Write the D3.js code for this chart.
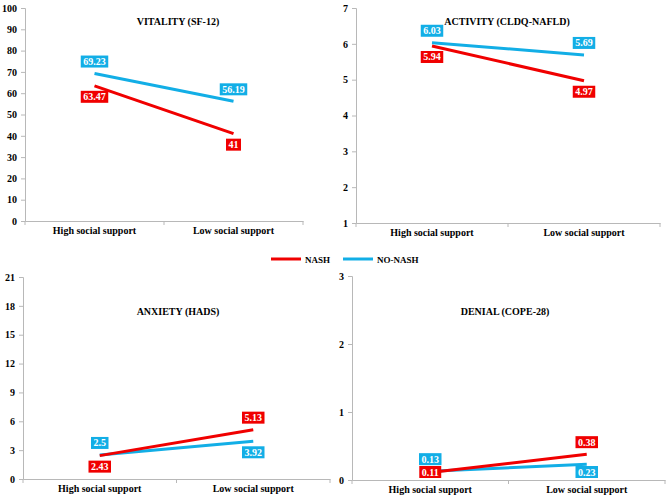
<!DOCTYPE html>
<html>
<head>
<meta charset="utf-8">
<script src="https://cdn.jsdelivr.net/npm/d3@7"></script>
<style>
  html, body { margin: 0; padding: 0; background: #fff; }
  svg { display: block; }
  svg text { font-family: "Liberation Serif", "DejaVu Serif", "Times New Roman", serif !important; font-weight: bold; }
</style>
</head>
<body>
<svg id="chart" width="669" height="498"></svg>
<script>
// ---- data ----
const categories = ["High social support", "Low social support"];
const seriesNames = ["NASH", "NO-NASH"];
const panelTitles = ["VITALITY (SF-12)", "ACTIVITY (CLDQ-NAFLD)", "ANXIETY (HADS)", "DENIAL (COPE-28)"];
const nashValues = [[63.47, 41], [5.94, 4.97], [2.43, 5.13], [0.11, 0.38]];
const noNashValues = [[69.23, 56.19], [6.03, 5.69], [2.5, 3.92], [0.13, 0.23]];
const yDomains = [[0, 100], [1, 7], [0, 21], [0, 3]];
const yTickSteps = [10, 1, 3, 1];

// ---- layout (not data) ----
const FONT = "'Liberation Serif', 'DejaVu Serif', 'Times New Roman', serif";
const colors = { "NASH": "#f00000", "NO-NASH": "#12aee6" };
const panels = [
  { x0: 25, x1: 303, yTop: 8, yBot: 221, titleX: 178, titleY: 25 },
  { x0: 356, x1: 660, yTop: 8, yBot: 223, titleX: 507, titleY: 25 },
  { x0: 23, x1: 330, yTop: 277, yBot: 479, titleX: 178, titleY: 315 },
  { x0: 352, x1: 665, yTop: 276, yBot: 480, titleX: 505, titleY: 315 }
];

const svg = d3.select("#chart");
const axisColor = "#b8b8b8";

function styleText(sel, size) {
  sel.attr("font-family", FONT).attr("font-weight", "bold").attr("font-size", size);
}

panels.forEach((p, i) => {
  const g = svg.append("g");
  const x = d3.scaleBand().domain(categories).range([p.x0, p.x1]);
  const y = d3.scaleLinear().domain(yDomains[i]).range([p.yBot, p.yTop]);
  const ticks = d3.range(yDomains[i][0], yDomains[i][1] + yTickSteps[i] / 2, yTickSteps[i]);

  // y axis
  const yAxis = g.append("g").attr("transform", `translate(${p.x0},0)`)
    .call(d3.axisLeft(y).tickValues(ticks).tickSize(4).tickPadding(4).tickFormat(d3.format("d")));
  styleText(yAxis, 10);
  yAxis.select(".domain").attr("stroke", axisColor);
  yAxis.selectAll(".tick line").attr("stroke", axisColor);
  yAxis.selectAll(".tick text").attr("fill", "#000");

  // x axis
  const xAxis = g.append("g").attr("transform", `translate(0,${p.yBot})`)
    .call(d3.axisBottom(x).tickSize(0).tickPadding(6));
  styleText(xAxis, 10);
  xAxis.select(".domain").attr("stroke", axisColor);
  xAxis.selectAll(".tick text").attr("fill", "#000");
  // boundary ticks
  const bounds = [p.x0, p.x0 + x.bandwidth(), p.x1];
  g.selectAll(".bt").data(bounds).enter().append("line")
    .attr("x1", d => d).attr("x2", d => d)
    .attr("y1", p.yBot).attr("y2", p.yBot + 4)
    .attr("stroke", axisColor);

  // title
  g.append("text").attr("x", p.titleX).attr("y", p.titleY)
    .attr("text-anchor", "middle").call(styleText, 10).text(panelTitles[i]);

  const seriesData = [
    { name: "NO-NASH", values: noNashValues[i] },
    { name: "NASH", values: nashValues[i] }
  ];
  const line = d3.line()
    .x((d, j) => x(categories[j]) + x.bandwidth() / 2)
    .y(d => y(d));
  seriesData.forEach(s => {
    g.append("path").datum(s.values).attr("d", line)
      .attr("fill", "none").attr("stroke", colors[s.name]).attr("stroke-width", 3);
  });

  // labels: higher value above, lower below (kept inside plot area)
  seriesData.forEach(s => {
    const other = seriesData.find(o => o !== s);
    s.values.forEach((v, j) => {
      const above = v >= other.values[j];
      const cx = x(categories[j]) + x.bandwidth() / 2;
      let cy = y(v) + (above ? -12 : 11);
      cy = Math.min(cy, p.yBot - 8);
      const lg = g.append("g");
      const t = lg.append("text").attr("x", cx).attr("y", cy + 3.5)
        .attr("text-anchor", "middle").attr("fill", "#fff")
        .call(styleText, 10).text(String(v));
      const bb = t.node().getBBox();
      lg.insert("rect", "text")
        .attr("x", cx - bb.width / 2 - 2.5).attr("y", cy - 6)
        .attr("width", bb.width + 5).attr("height", 12)
        .attr("fill", colors[s.name]);
    });
  });
});

// legend
const legendItems = [
  { name: seriesNames[0], x: 271 },
  { name: seriesNames[1], x: 343 }
];
const lg = svg.append("g");
legendItems.forEach(it => {
  lg.append("line").attr("x1", it.x).attr("x2", it.x + 30)
    .attr("y1", 259).attr("y2", 259)
    .attr("stroke", colors[it.name]).attr("stroke-width", 3);
  lg.append("text").attr("x", it.x + 34).attr("y", 262.5)
    .call(styleText, 9).text(it.name);
});
</script>
</body>
</html>
